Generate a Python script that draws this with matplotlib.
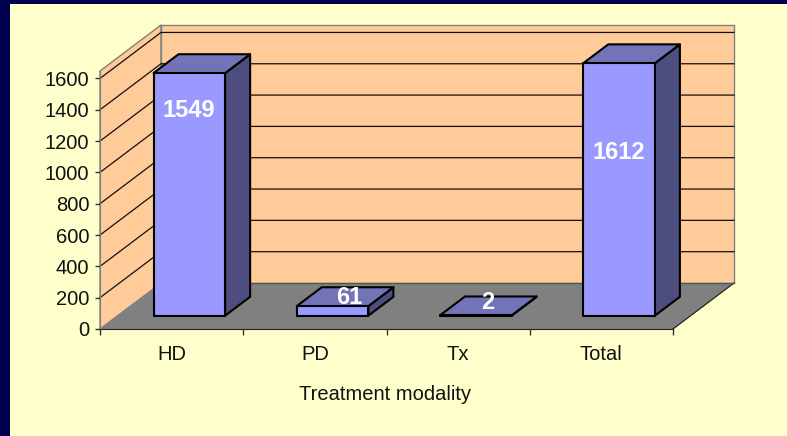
import matplotlib
matplotlib.use("Agg")
import matplotlib.pyplot as plt
from matplotlib.patches import Polygon, Rectangle

categories = ["HD", "PD", "Tx", "Total"]
values = [1549, 61, 2, 1612]
y_ticks = [0, 200, 400, 600, 800, 1000, 1200, 1400, 1600]
x_label = "Treatment modality"

W, H = 787, 436
plt.rcParams["font.family"] = ["Liberation Sans", "DejaVu Sans"]
FS = 14.5
fig = plt.figure(figsize=(W / 100, H / 100), dpi=100, facecolor="#000050")
fig.patches.append(Rectangle((10 / W, 0), 1 - 10 / W, 1 - 4 / H, transform=fig.transFigure,
                             facecolor="#FFFFCC", edgecolor="none", zorder=-1))

L, R, B, T = 100, 673, 329, 71
ax = fig.add_axes([L / W, 1 - B / H, (R - L) / W, (B - T) / H])
ax.patch.set_visible(False)
PX_Y = 0.1566
YMAX = (B - T) / PX_Y
PX_X = (R - L) / len(categories)
ax.set_xlim(0, len(categories))
ax.set_ylim(0, YMAX)
DX = 61 / PX_X      # full depth, in category units
DY = 46 / PX_Y      # full depth, in value units


def P(x, y, d=0.0):
    return (x + d * DX, y + d * DY)


def poly(pts, fc, ec="none", lw=0.0, z=1):
    ax.add_patch(Polygon(pts, closed=True, facecolor=fc, edgecolor=ec, linewidth=lw,
                         joinstyle="round", clip_on=False, zorder=z))


n = len(categories)
poly([P(0, 0), P(0, YMAX), P(0, YMAX, 1), P(0, 0, 1)], "#FFCC99", "#808080", 1.0, 1)
poly([P(0, 0, 1), P(0, YMAX, 1), P(n, YMAX, 1), P(n, 0, 1)], "#FFCC99", "#808080", 1.0, 1)
poly([P(0, 0), P(n, 0), P(n, 0, 1), P(0, 0, 1)], "#808080", "none", 0, 2)

for v in y_ticks[1:]:
    a, b, c = P(0, v), P(0, v, 1), P(n, v, 1)
    ax.plot([a[0], b[0], c[0]], [a[1], b[1], c[1]], color="#111111", lw=0.9,
            clip_on=False, zorder=1.5, solid_joinstyle="miter")
a, b = P(n, 0), P(n, 0, 1)
ax.plot([a[0], b[0]], [a[1], b[1]], color="#222222", lw=0.9, clip_on=False, zorder=3)
a, b = P(0, 0, 1), P(n, 0, 1)
ax.plot([a[0], b[0]], [a[1], b[1]], color="#555555", lw=1.0, clip_on=False, zorder=3)

BAR_W = 0.5
D0, D1 = 0.29, 0.70
for i, v in enumerate(values):
    x0, x1 = i + (1 - BAR_W) / 2, i + (1 + BAR_W) / 2
    z = 5
    poly([P(x1, 0, D0), P(x1, v, D0), P(x1, v, D1), P(x1, 0, D1)], "#4D4D80", "black", 1.5, z)
    poly([P(x0, v, D0), P(x1, v, D0), P(x1, v, D1), P(x0, v, D1)], "#7373B8", "black", 1.5, z)
    poly([P(x0, 0, D0), P(x1, 0, D0), P(x1, v, D0), P(x0, v, D0)], "#9999FF", "black", 1.5, z)

# value labels, offset in pixels from the centre of each bar's front top edge
offsets = [(-1, -37), (17, 9), (12, 13), (0, -89)]
for i, (v, (ox, oy)) in enumerate(zip(values, offsets)):
    ax.annotate(str(v), xy=P(i + 0.5, v, D0), xytext=(ox * 0.72, oy * 0.72),
                textcoords="offset points", ha="center", va="center", color="white",
                fontsize=17, fontweight="bold", zorder=6, annotation_clip=False)

for s in ("top", "right"):
    ax.spines[s].set_visible(False)
ax.spines["left"].set_color("#808080")
ax.spines["bottom"].set_color("#222222")
ax.spines["left"].set_zorder(4)
ax.spines["bottom"].set_zorder(4)
ax.set_yticks(y_ticks)
ax.set_yticklabels([str(v) for v in y_ticks], fontsize=FS, color="#111111")
ax.set_xticks(range(n + 1))
ax.set_xticklabels([""] * (n + 1))
ax.tick_params(axis="y", length=5 * 0.72, width=1.0, color="#333333", pad=4.2)
ax.tick_params(axis="x", length=6 * 0.72, width=1.0, color="#333333")
for i, c in enumerate(categories):
    ax.annotate(c, xy=(i + 0.5, 0), xytext=(0, -25.5 * 0.72), textcoords="offset points",
                ha="center", va="center", fontsize=FS, color="#111111", annotation_clip=False)
ax.annotate(x_label, xy=(n / 2, 0), xytext=(-1.5 * 0.72, -66 * 0.72), textcoords="offset points",
            ha="center", va="center", fontsize=FS, color="#111111", annotation_clip=False)

fig.savefig("out.png", dpi=100, facecolor=fig.get_facecolor())
